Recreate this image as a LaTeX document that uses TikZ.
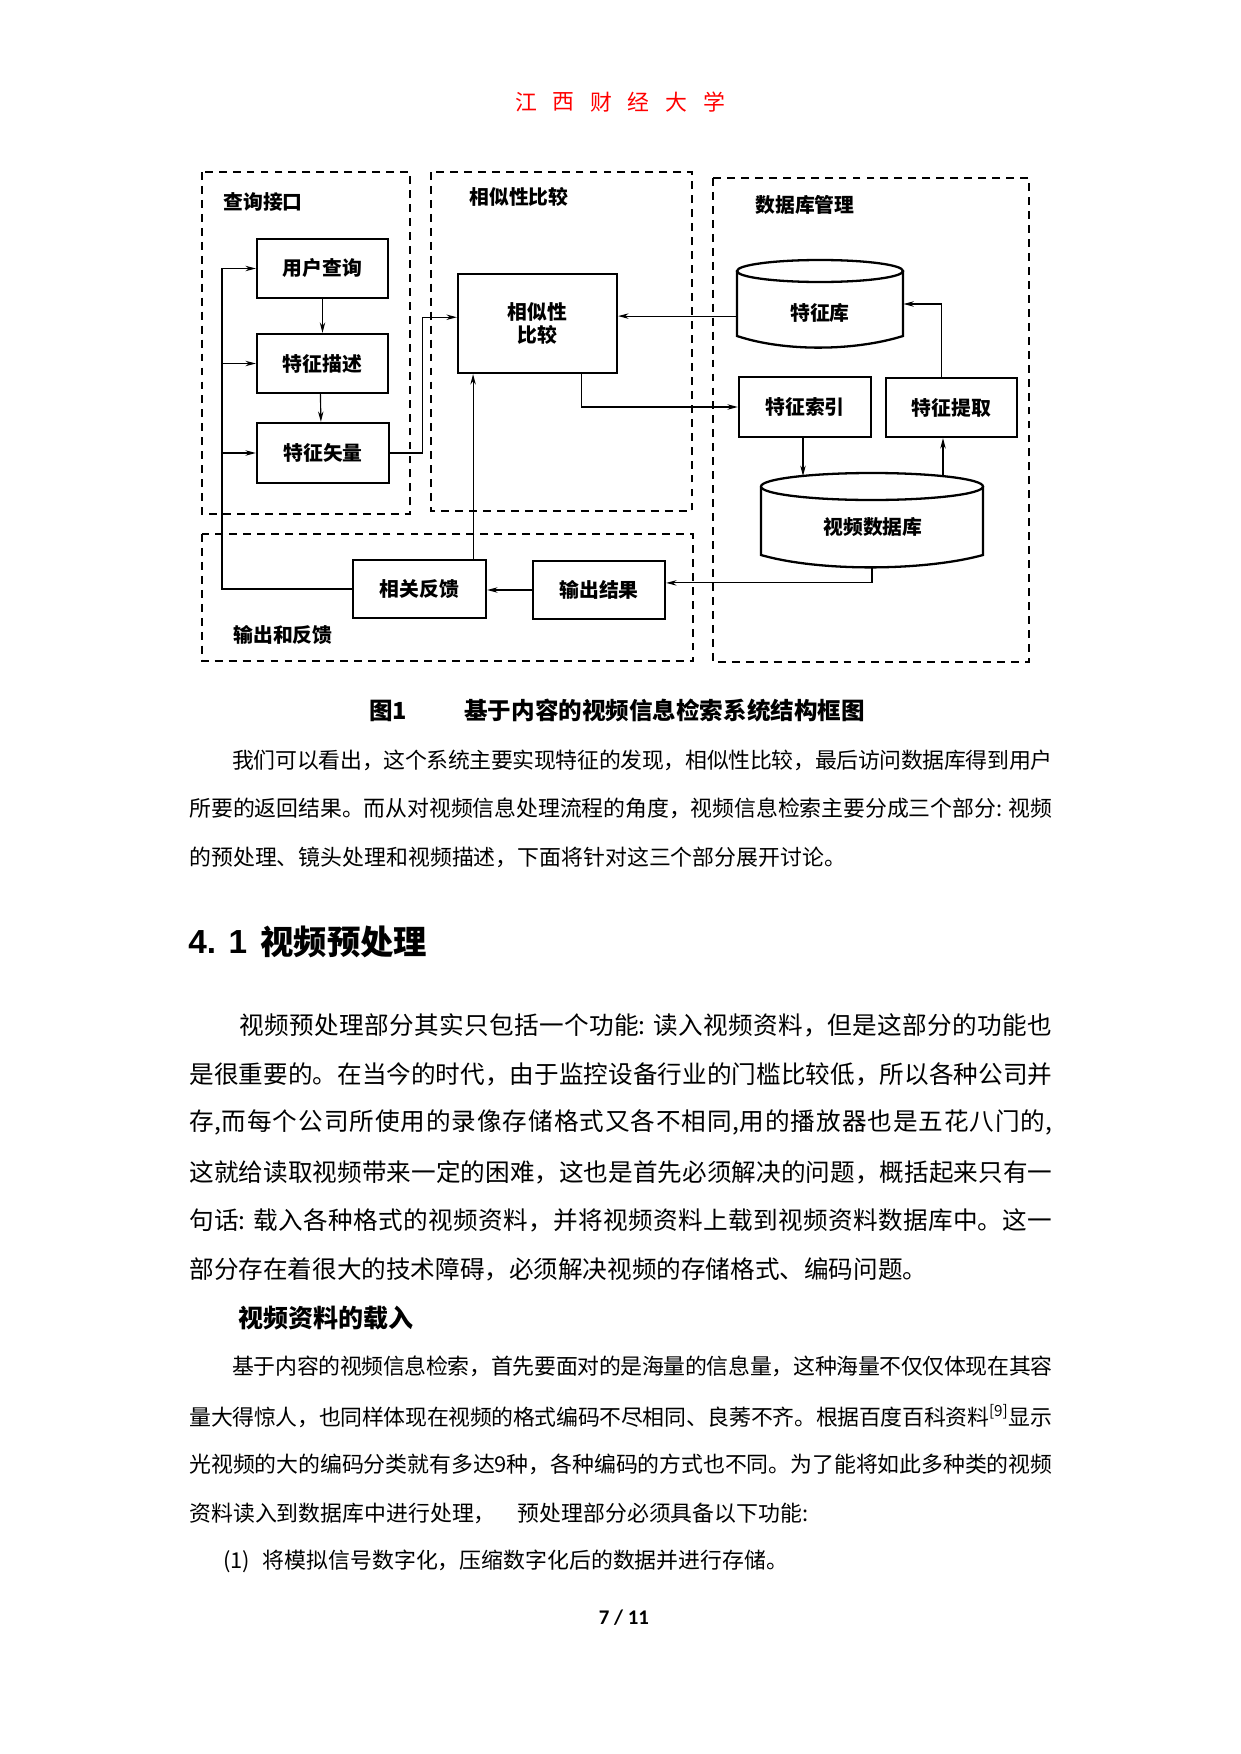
\documentclass[tikz,border=0pt]{standalone}
\usepackage{fontspec}
\setmainfont{Noto Sans CJK SC}
\newfontfamily\arialb{Liberation Sans}
\newfontfamily\carl{Carlito}
\usetikzlibrary{arrows.meta}
\XeTeXlinebreaklocale "zh"
\XeTeXlinebreakskip=0pt plus 1.5pt minus 0.6pt
\newcommand\dfont{\fontsize{9.5pt}{11pt}\selectfont\bfseries}
\newcommand\fsA{\fontsize{10.5pt}{13pt}\selectfont}
\newcommand\fsB{\fontsize{11.8pt}{14pt}\selectfont}
\newcommand\JL[1]{\noindent\parfillskip=0pt\relax#1\par}
\begin{document}
\begin{tikzpicture}[x=0.4797pt,y=-0.4797pt,
  grp/.style={draw, line width=0.7pt, dash pattern=on 3.8pt off 2.9pt},
  sbox/.style 2 args={draw, line width=1.1pt, inner sep=0pt, minimum width=#1*0.4797pt, minimum height=#2*0.4797pt, font=\dfont},
  ghost/.style 2 args={inner sep=0pt, minimum width=#1*0.4797pt, minimum height=#2*0.4797pt},
  cyl/.style={draw, line width=1.1pt},
  lbl/.style={anchor=west, inner sep=0pt, font=\dfont},
  ln/.style={line width=0.55pt},
  conn/.style={line width=0.55pt, -{Stealth[length=5pt,width=2.6pt]}},
  txt/.style={anchor=west, inner sep=0pt},
  jl/.style={anchor=west, inner sep=0pt, text width=#1*0.4797pt, align=justify}
]
\fill[white] (0,0) rectangle (1241,1754);
\useasboundingbox (0,0) rectangle (1241,1754);

% header
\foreach \i/\c in {0/江,1/西,2/财,3/经,4/大,5/学}
  \node[inner sep=0pt, text=red, font=\fontsize{10.5pt}{12pt}\selectfont] (hd\i) at (526+37.6*\i,102) {\c};

% group boxes
\draw[grp] (202,172) rectangle (410,514);
\draw[grp] (431,172) rectangle (692,511);
\draw[grp] (713,178) rectangle (1029,662);
\draw[grp] (202,534) rectangle (693,661);
\node[lbl] (lq) at (223,202) {查询接口};
\node[lbl] (ls) at (469,197) {相似性比较};
\node[lbl] (ld) at (755,205) {数据库管理};
\node[lbl] (lo) at (233,635) {输出和反馈};

% boxes
\node[sbox={131}{59}] (uq) at (322.5,268.5) {用户查询};
\node[sbox={131}{59}] (fd) at (322.5,363.5) {特征描述};
\node[sbox={132}{60}] (fv) at (323,453) {特征矢量};
\node[sbox={159}{99}, align=center] (sc) at (537.5,323.5) {相似性\\比较};
\node[sbox={132}{60}] (fi) at (805,407) {特征索引};
\node[sbox={131}{59}] (fe) at (951.5,407.5) {特征提取};
\node[sbox={133}{58}] (rf) at (419.5,589) {相关反馈};
\node[sbox={132}{58}] (out) at (599,590) {输出结果};

% cylinders
\draw[cyl] (820,271) ellipse [x radius=83, y radius=11];
\draw[cyl] (737,271) -- (737,336) .. controls (785,352) and (855,351) .. (903,336) -- (903,271);
\node[ghost={166}{88}] (fdb) at (820,304) {};
\node[inner sep=0pt, font=\dfont] (fdbt) at (820,313) {特征库};
\draw[cyl] (872,486.5) ellipse [x radius=111, y radius=13.5];
\draw[cyl] (761,486.5) -- (761,555) .. controls (820,572) and (925,571) .. (983,555) -- (983,486.5);
\node[ghost={222}{94}] (vdb) at (872,520) {};
\node[inner sep=0pt, font=\dfont] (vdbt) at (873,527) {视频数据库};

% connectors
\draw[conn] (uq.south) -- (fd.north);
\draw[conn] ([xshift=-1pt]fd.south) -- ([xshift=-1pt]fv.north);
\draw[conn] (fv.east) -- ++(32,0) |- ([yshift=3pt]sc.west);
\coordinate (lp) at (222,589);
\draw[conn] (rf.west) -- (lp) |- (uq.west);
\draw[conn] (lp |- fd.west) -- (fd.west);
\draw[conn] (lp |- fv.west) -- (fv.west);
\coordinate (rfT) at ([xshift=25.7pt]rf.north);
\draw[conn] (rfT) -- (rfT |- sc.south);
\draw[conn] (out.west) -- (rf.east |- out.west);
\draw[conn] (vdb.south) |- ([yshift=3.4pt]out.east);
\coordinate (fdbL) at ([yshift=-5.8pt]fdb.west);
\draw[conn] (fdbL) -- (fdbL -| sc.east);
\coordinate (scB) at ([xshift=21.3pt]sc.south);
\draw[conn] (scB) |- (fi.west);
\coordinate (feT) at ([xshift=-4.6pt]fe.north);
\draw[conn] (feT) |- (fdb.east);
\coordinate (vdbT1) at (803,476);
\draw[conn] (vdbT1 |- fi.south) -- (vdbT1);
\coordinate (vdbT2) at (943,476);
\draw[conn] (vdbT2) -- (vdbT2 |- fe.south);

% caption
\node[txt, font=\fontsize{11.3pt}{13pt}\selectfont\bfseries] (capA) at (369,711) {图1};
\node[txt, font=\fontsize{11.3pt}{13pt}\selectfont\bfseries] (capB) at (464,711) {基于内容的视频信息检索系统结构框图};

% paragraph 1
\node[jl=820, font=\fsA] (p1a) at (232,760) {\JL{我们可以看出，这个系统主要实现特征的发现，相似性比较，最后访问数据库得到用户}};
\node[jl=863, font=\fsA] (p1b) at (189,808) {\JL{所要的返回结果。而从对视频信息处理流程的角度，视频信息检索主要分成三个部分: 视频}};
\node[txt, font=\fsA] (p1c) at (189,857) {的预处理、镜头处理和视频描述，下面将针对这三个部分展开讨论。};

% heading
\node[txt, font=\arialb\bfseries\fontsize{16pt}{18pt}\selectfont] (h41) at (188,942) {4. 1};
\node[txt, font=\bfseries\fontsize{16pt}{18pt}\selectfont] (h41t) at (260,942) {视频预处理};

% paragraph 2
\node[jl=813, font=\fsB] (p2a) at (239,1025) {\JL{视频预处理部分其实只包括一个功能: 读入视频资料，但是这部分的功能也}};
\node[jl=863, font=\fsB] (p2b) at (189,1074) {\JL{是很重要的。在当今的时代，由于监控设备行业的门槛比较低，所以各种公司并}};
\node[jl=863, font=\fsB] (p2c) at (189,1122) {\JL{存,而每个公司所使用的录像存储格式又各不相同,用的播放器也是五花八门的,}};
\node[jl=863, font=\fsB] (p2d) at (189,1172) {\JL{这就给读取视频带来一定的困难，这也是首先必须解决的问题，概括起来只有一}};
\node[jl=863, font=\fsB] (p2e) at (189,1220) {\JL{句话: 载入各种格式的视频资料，并将视频资料上载到视频资料数据库中。这一}};
\node[txt, font=\fsB] (p2f) at (189,1269) {部分存在着很大的技术障碍，必须解决视频的存储格式、编码问题。};

% subheading
\node[txt, font=\bfseries\fontsize{12pt}{14pt}\selectfont] (sub) at (238,1318) {视频资料的载入};

% paragraph 3
\node[jl=820, font=\fsA] (p3a) at (232,1366) {\JL{基于内容的视频信息检索，首先要面对的是海量的信息量，这种海量不仅仅体现在其容}};
\node[jl=863, font=\fsA] (p3b) at (189,1416) {\JL{量大得惊人，也同样体现在视频的格式编码不尽相同、良莠不齐。根据百度百科资料\textsuperscript{[9]}显示}};
\node[jl=863, font=\fsA] (p3c) at (189,1464) {\JL{光视频的大的编码分类就有多达9种，各种编码的方式也不同。为了能将如此多种类的视频}};
\node[txt, font=\fsA] (p3d) at (189,1513) {资料读入到数据库中进行处理，\hspace{1em}预处理部分必须具备以下功能:};
\node[txt, font=\fsA] (p3e) at (223,1561) {(1)\hspace{6pt}将模拟信号数字化，压缩数字化后的数据并进行存储。};

% page number
\node[inner sep=0pt, font=\carl\bfseries\fontsize{10pt}{12pt}\selectfont] (pg) at (624,1618) {7 / 11};
\end{tikzpicture}
\end{document}
